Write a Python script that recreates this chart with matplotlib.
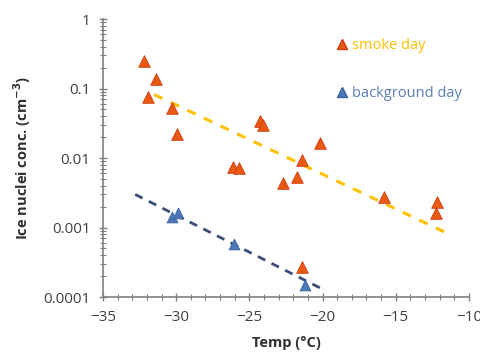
import matplotlib.pyplot as plt
from matplotlib.lines import Line2D

# smoke day samples (temp in C, IN conc in cm-3)
smoke_temp = [-32.2, -31.4, -31.9, -30.3, -29.95, -26.1, -25.7, -24.3, -24.1,
              -22.7, -21.75, -21.4, -20.2, -15.8, -12.2, -12.25, -21.4]
smoke_conc = [0.25, 0.137, 0.076, 0.052, 0.022, 0.0074, 0.0072, 0.034, 0.030,
              0.0044, 0.0053, 0.0094, 0.0164, 0.00275, 0.0023, 0.0016, 0.00027]

# background day samples
bg_temp = [-30.3, -29.9, -26.05, -21.2]
bg_conc = [0.00142, 0.00162, 0.00058, 0.000149]

# trend lines (end points)
smoke_fit_temp = [-31.5, -11.7]
smoke_fit_conc = [0.082, 0.00087]
bg_fit_temp = [-32.8, -20.0]
bg_fit_conc = [0.003, 0.00013]

orange = '#E85A12'
orange_edge = '#D03A10'
yellow = '#FFC000'
blue = '#4A78B8'
navy = '#3B4E78'

plt.rcParams['font.family'] = ['Open Sans', 'DejaVu Sans']

fig = plt.figure(figsize=(4.81, 3.52), dpi=100)
ax = fig.add_axes([0.214, 0.156, 0.761, 0.790])

ax.plot(smoke_fit_temp, smoke_fit_conc, color=yellow, lw=2.2, ls=(0, (3, 3)), zorder=1)
ax.plot(bg_fit_temp, bg_fit_conc, color=navy, lw=2.0, ls=(0, (3, 2.5)), zorder=1)

ax.scatter(smoke_temp, smoke_conc, marker='^', s=70, color=orange,
           edgecolors=orange_edge, linewidths=0.6, zorder=3)
ax.scatter(bg_temp, bg_conc, marker='^', s=60, color=blue,
           edgecolors='#3A64A0', linewidths=0.6, zorder=3)

ax.set_yscale('log')
ax.set_ylim(0.0001, 1)
ax.set_xlim(-35, -10)
ax.set_yticks([0.0001, 0.001, 0.01, 0.1, 1])
ax.set_yticklabels(['0.0001', '0.001', '0.01', '0.1', '1'])
ax.set_xticks(range(-35, -9, 5))
ax.set_xticks(range(-35, -9, 1), minor=True)

for s in ['top', 'right']:
    ax.spines[s].set_visible(False)
for s in ['left', 'bottom']:
    ax.spines[s].set_color('#808080')
    ax.spines[s].set_linewidth(1.2)

ax.tick_params(which='major', direction='inout', length=6, width=1, color='#808080',
               labelsize=11, labelcolor='#404040', pad=6)
ax.tick_params(which='minor', direction='inout', length=4, width=0.8, color='#808080')

ax.set_xlabel('Temp (°C)', fontsize=10.5, fontweight='bold', color='#303030', labelpad=8)
ax.set_ylabel('Ice nuclei conc. (cm$^{\\mathbf{-3}}$)', fontsize=10.5, fontweight='bold',
              color='#303030', labelpad=7)

handles = [Line2D([], [], ls='none', marker='^', ms=7, color=orange, mec=orange_edge),
           Line2D([], [], ls='none', marker='^', ms=7, color=blue, mec='#3A64A0')]
ax.legend(handles, ['smoke day', 'background day'], loc='upper left',
          bbox_to_anchor=(0.60, 0.98), frameon=False, fontsize=10.5,
          labelcolor=[yellow, '#5B7DB8'], handlelength=0.8, handletextpad=0.3,
          labelspacing=2.3)

fig.savefig('out.png', dpi=100)
